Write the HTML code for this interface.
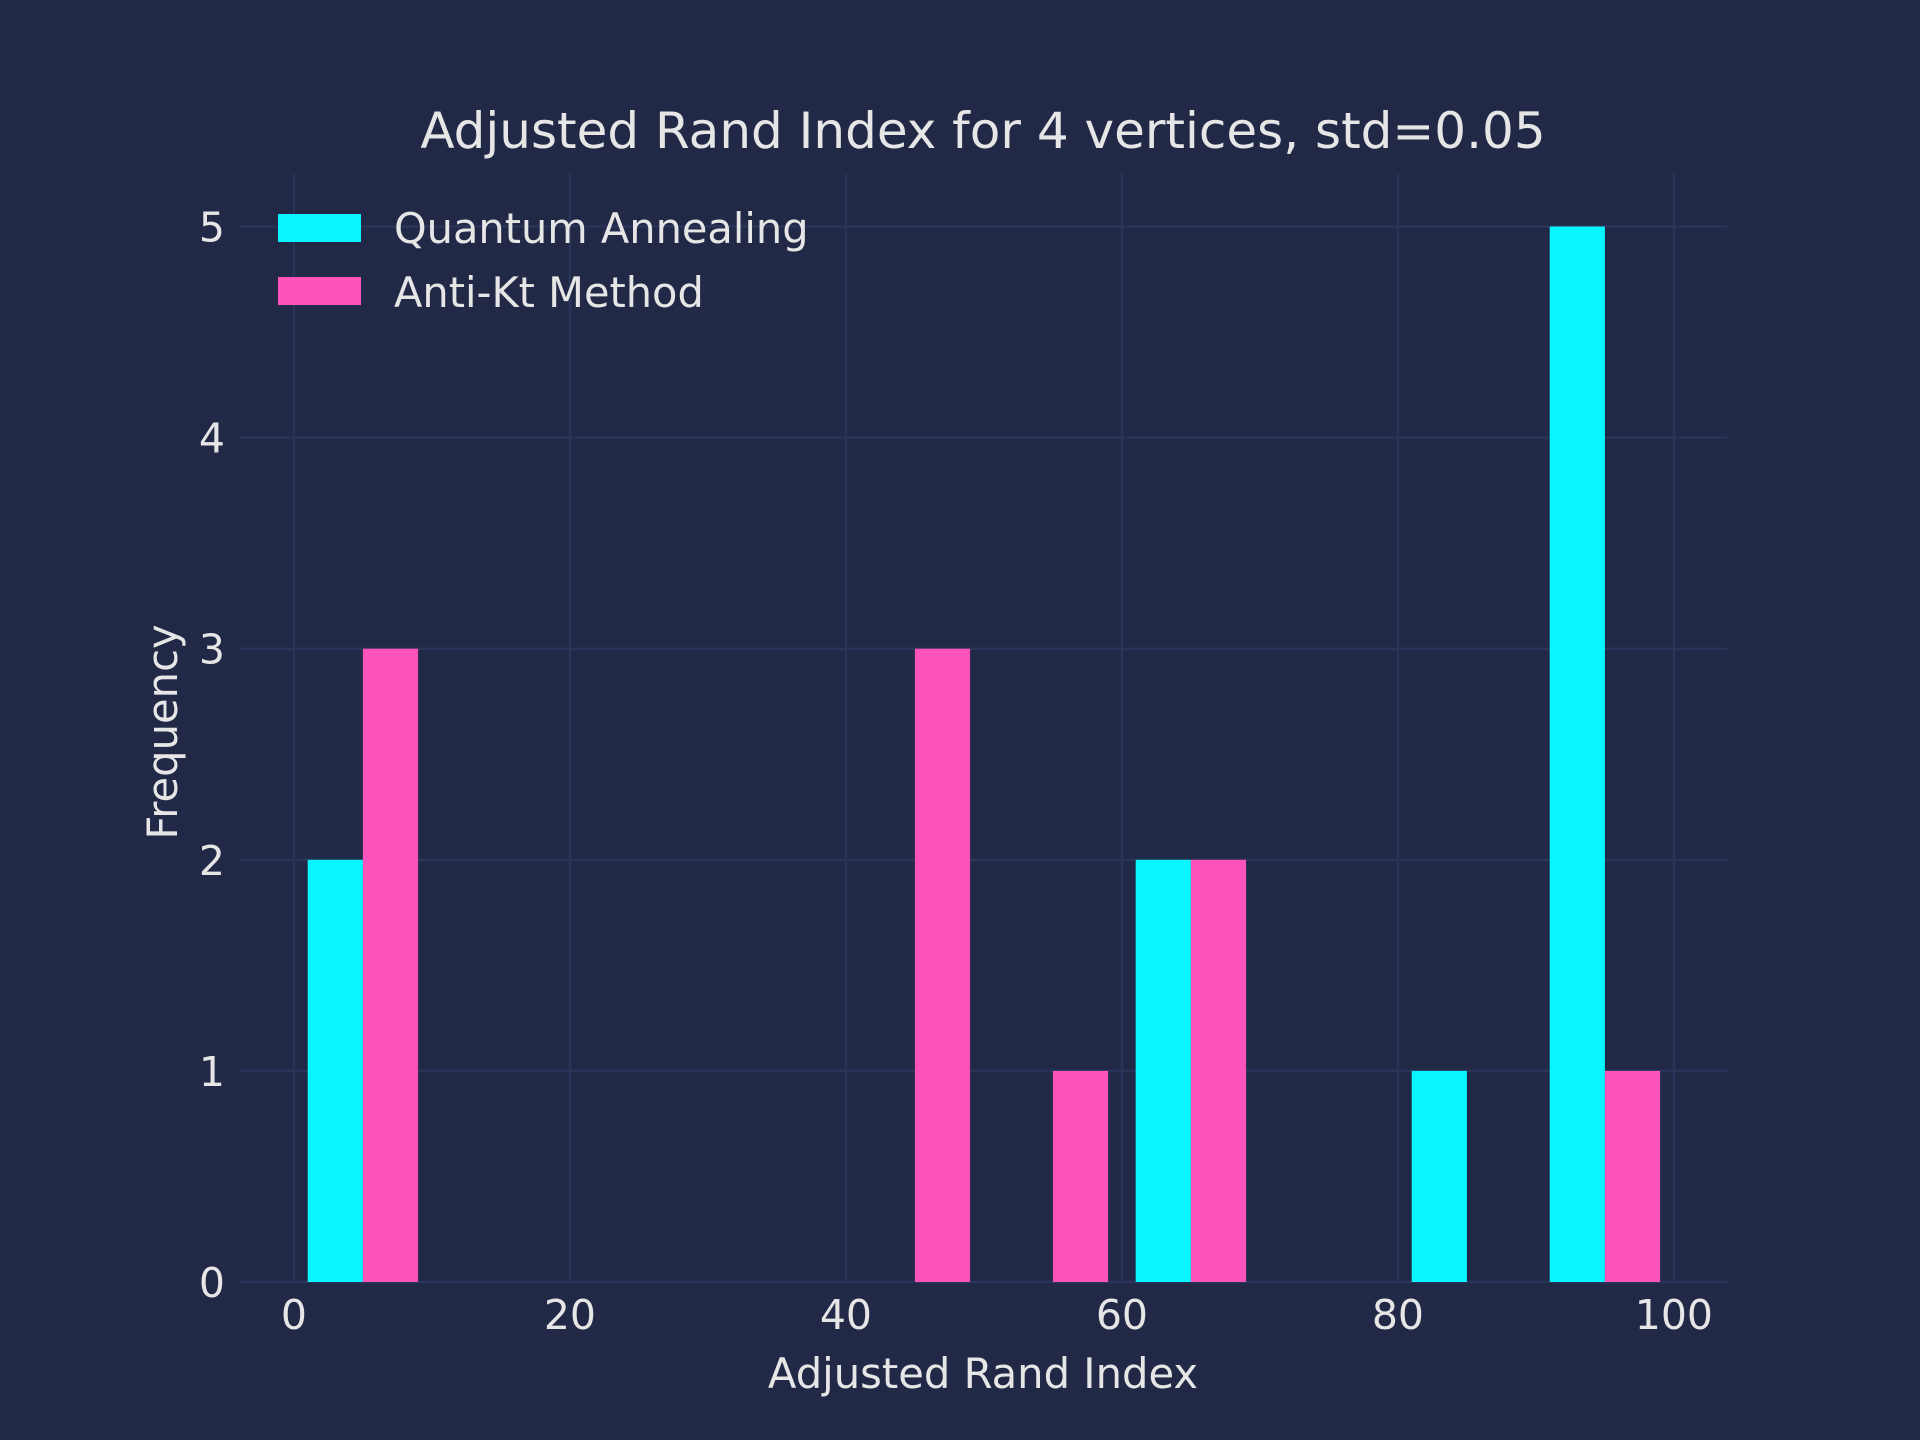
<!DOCTYPE html>
<html><head><meta charset="utf-8"><style>
html,body{margin:0;padding:0;background:#212946;}
svg{display:block;font-family:"DejaVu Sans","Liberation Sans",sans-serif;}
</style></head><body>
<svg id="chart" width="1920" height="1440" viewBox="0 0 1920 1440" xmlns="http://www.w3.org/2000/svg">
<rect width="1920" height="1440" fill="#212946"/>
<g id="grid"></g>
<g id="bars"></g>
<g id="ticks"></g>
<text x="983" y="148" font-size="50" fill="#e6e6e6" text-anchor="middle">Adjusted Rand Index for 4 vertices, std=0.05</text>
<text x="983" y="1388" font-size="41.7" fill="#e6e6e6" text-anchor="middle">Adjusted Rand Index</text>
<text x="0" y="0" font-size="41.7" fill="#e6e6e6" text-anchor="middle" transform="translate(177,732) rotate(-90)">Frequency</text>
<g>
<rect x="278" y="214" width="83" height="28" fill="#08F7FE"/>
<text x="394" y="243" font-size="41.5" fill="#e6e6e6">Quantum Annealing</text>
<rect x="278" y="277" width="83" height="28" fill="#FE53BB"/>
<text x="394" y="307" font-size="41.5" fill="#e6e6e6">Anti-Kt Method</text>
</g>
</svg>
<script>
const binCenters = [5, 15, 25, 35, 45, 55, 65, 75, 85, 95];
const quantumCounts = [2, 0, 0, 0, 0, 0, 2, 0, 1, 5];
const antiKtCounts = [3, 0, 0, 0, 3, 1, 2, 0, 0, 1];
const xTicks = [0, 20, 40, 60, 80, 100];
const yTicks = [0, 1, 2, 3, 4, 5];
const NS = "http://www.w3.org/2000/svg";
const L = 240, R = 1727, T = 174, B = 1282;
const xs = v => 293.9 + (v / 100) * (1673.9 - 293.9);
const ys = v => 1282 - (v / 5) * (1282 - 226.5);
function mk(tag, attrs, parent) {
  const e = document.createElementNS(NS, tag);
  for (const k in attrs) e.setAttribute(k, attrs[k]);
  parent.appendChild(e);
  return e;
}
const grid = document.getElementById('grid');
const ticks = document.getElementById('ticks');
xTicks.forEach(t => {
  const l = mk('line', {x1: xs(t), x2: xs(t), y1: T, y2: B, stroke: '#2A3459', 'stroke-width': 2.5}, grid);
  
  
  const tx = mk('text', {x: xs(t), y: 1329, 'font-size': 41, fill: '#e6e6e6', 'text-anchor': 'middle'}, ticks);
  tx.textContent = t;
  
  
});
yTicks.forEach(t => {
  const l = mk('line', {x1: L, x2: R, y1: ys(t), y2: ys(t), stroke: '#2A3459', 'stroke-width': 2.5}, grid);
  
  
  const tx = mk('text', {x: 225, y: ys(t) + 15, 'font-size': 41, fill: '#e6e6e6', 'text-anchor': 'end'}, ticks);
  tx.textContent = t;
  
  
});
const bars = document.getElementById('bars');
binCenters.forEach((c, i) => {
  if (quantumCounts[i] > 0) {
    const r = mk('rect', {x: xs(c - 4), y: ys(quantumCounts[i]), width: xs(c) - xs(c - 4), height: ys(0) - ys(quantumCounts[i]), fill: '#08F7FE'}, bars);
    
    
  }
  if (antiKtCounts[i] > 0) {
    const r = mk('rect', {x: xs(c), y: ys(antiKtCounts[i]), width: xs(c + 4) - xs(c), height: ys(0) - ys(antiKtCounts[i]), fill: '#FE53BB'}, bars);
    
    
  }
});
</script>
</body></html>
